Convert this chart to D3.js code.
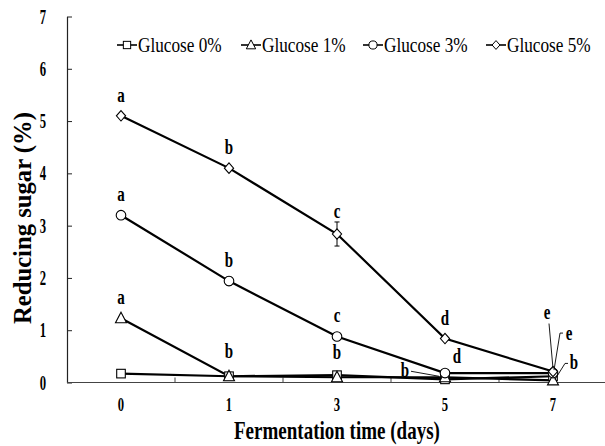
<!DOCTYPE html>
<html><head><meta charset="utf-8">
<script src="https://cdn.jsdelivr.net/npm/d3@7"></script>
<style>
html,body{margin:0;padding:0;background:#fff;}
text{font-family:"Liberation Serif","Times New Roman",serif;}
</style></head>
<body><svg id="chart" width="605" height="446"></svg>
<script>
// ---- data ----
const categories = ["0", "1", "3", "5", "7"];
const seriesNames = ["Glucose 0%", "Glucose 1%", "Glucose 3%", "Glucose 5%"];
const glucose0 = [0.17, 0.12, 0.14, 0.06, 0.12];
const glucose1 = [1.23, 0.12, 0.10, 0.10, 0.04];
const glucose3 = [3.20, 1.94, 0.88, 0.18, 0.18];
const glucose5 = [5.10, 4.10, 2.84, 0.84, 0.21];
const err0 = [0.02, 0.02, 0.02, 0.02, 0.02];
const err1 = [0.03, 0.02, 0.02, 0.02, 0.02];
const err3 = [0.03, 0.08, 0.03, 0.03, 0.02];
const err5 = [0.03, 0.04, 0.23, 0.03, 0.03];
const letters0 = [null, null, null, null, null];
const letters1 = ["a", "b", "b", "b", "b"];
const letters3 = ["a", "b", "c", "d", "e"];
const letters5 = ["a", "b", "c", "d", "e"];
const yTicks = [0, 1, 2, 3, 4, 5, 6, 7];
const xTitle = "Fermentation time (days)";
const yTitle = "Reducing sugar (%)";

const series = [
  {name: seriesNames[0], values: glucose0, err: err0, letters: letters0, sym: "square"},
  {name: seriesNames[1], values: glucose1, err: err1, letters: letters1, sym: "triangle"},
  {name: seriesNames[2], values: glucose3, err: err3, letters: letters3, sym: "circle"},
  {name: seriesNames[3], values: glucose5, err: err5, letters: letters5, sym: "diamond"}
];

const svg = d3.select("#chart");
const mLeft = 67, mRight = 607, mTop = 16.5, mBottom = 382.5;
const x = d3.scaleBand().domain(categories).range([mLeft, mRight]).padding(0);
const cx = c => x(c) + x.bandwidth() / 2;
const y = d3.scaleLinear().domain([0, 7]).range([mBottom, mTop]);

// horizontally condense text glyphs (the reference type is narrow)
function condense(sel, f) {
  sel.each(function() {
    const t = d3.select(this);
    const x0 = +t.attr("x") || 0;
    const tr = t.attr("transform") || "";
    t.attr("x", x0 / f).attr("transform", (tr + ` scale(${f},1)`).trim());
  });
}
// place a title so that it spans a given length centred at a point
function fitTitle(t, base, len) {
  const bb = t.node().getBBox();
  const f = len / bb.width;
  const c = bb.x + bb.width / 2;
  t.attr("transform", `${base} scale(${f},1) translate(${-c},0)`);
}

// y axis
const yAxis = svg.append("g").attr("transform", `translate(${mLeft},0)`)
  .call(d3.axisLeft(y).tickValues(yTicks).tickFormat(d3.format("d"))
        .tickSize(-5).tickSizeOuter(0).tickPadding(21));
yAxis.select(".domain").attr("stroke", "#222").attr("stroke-width", 1.2);
yAxis.selectAll(".tick line").attr("stroke", "#222");
yAxis.selectAll(".tick text").attr("font-size", 20.5).attr("font-weight", "bold")
  .attr("font-family", "Liberation Serif").attr("fill", "#000");
condense(yAxis.selectAll(".tick text"), 0.62);

// x axis
const xAxis = svg.append("g").attr("transform", `translate(0,${mBottom})`)
  .call(d3.axisBottom(x).tickSize(0).tickSizeOuter(0).tickPadding(15));
xAxis.select(".domain").remove();
xAxis.append("line").attr("x1", mLeft).attr("x2", 605).attr("y1", 0).attr("y2", 0)
  .attr("stroke", "#444").attr("stroke-width", 1.2);
xAxis.selectAll(".xb").data(categories.slice(1)).enter().append("line")
  .attr("x1", d => x(d)).attr("x2", d => x(d)).attr("y1", 0).attr("y2", -5)
  .attr("stroke", "#444");
xAxis.selectAll(".tick text").attr("font-size", 19.5).attr("font-weight", "bold")
  .attr("font-family", "Liberation Serif").attr("fill", "#000");
condense(xAxis.selectAll(".tick text"), 0.65);

// titles
const xt = svg.append("text").attr("font-size", 25).attr("font-weight", "bold").text(xTitle);
fitTitle(xt, "translate(337,439)", 206);
const yt = svg.append("text").attr("font-size", 26).attr("font-weight", "bold").text(yTitle);
fitTitle(yt, "translate(31,218) rotate(-90)", 212);

// symbol drawing
function drawSymbol(g, sym, px, py, s) {
  s = s || 1;
  if (sym === "square") {
    g.append("rect").attr("x", px - 4.3 * s).attr("y", py - 4.3 * s).attr("width", 8.6 * s).attr("height", 8.6 * s);
  } else if (sym === "triangle") {
    g.append("path").attr("d", `M${px},${py - 6 * s}L${px + 5.5 * s},${py + 4.5 * s}L${px - 5.5 * s},${py + 4.5 * s}Z`);
  } else if (sym === "circle") {
    g.append("circle").attr("cx", px).attr("cy", py).attr("r", 4.8 * s);
  } else {
    g.append("path").attr("d", `M${px},${py - 5.2 * s}L${px + 4.6 * s},${py}L${px},${py + 5.2 * s}L${px - 4.6 * s},${py}Z`);
  }
}

// lines
const line = d3.line().x((d, i) => cx(categories[i])).y(d => y(d));
series.forEach(s => {
  svg.append("path").datum(s.values).attr("d", line)
    .attr("fill", "none").attr("stroke", "#000").attr("stroke-width", 2.2);
});

// error bars
series.forEach(s => {
  s.values.forEach((v, i) => {
    const px = cx(categories[i]);
    const g = svg.append("g").attr("stroke", "#000").attr("stroke-width", 1);
    g.append("line").attr("x1", px).attr("x2", px).attr("y1", y(v - s.err[i])).attr("y2", y(v + s.err[i]));
    [v - s.err[i], v + s.err[i]].forEach(e => g.append("line")
      .attr("x1", px - 2.5).attr("x2", px + 2.5).attr("y1", y(e)).attr("y2", y(e)));
  });
});

// markers
series.forEach(s => {
  const g = svg.append("g").attr("fill", "#fff").attr("stroke", "#000").attr("stroke-width", 1.1);
  s.values.forEach((v, i) => drawSymbol(g, s.sym, cx(categories[i]), y(v)));
});

// letters
const special = {
  "1-1": {dx: 0, dy: -18},
  "1-2": {dx: 0, dy: -18},
  "1-3": {dx: -36, dy: 0, anchor: "end", leader: [[-34, -6], [-6, -1]]},
  "2-3": {dx: 12, dy: -10},
  "3-4": {dx: -6, dy: -53, leader: [[-4, -48], [0, -3]]},
  "2-4": {dx: 16, dy: -33, leader: [[10, -40], [7, -40], [1, -3]]},
  "1-4": {dx: 21, dy: -11, leader: [[15, -17], [12, -17], [2, -1]]}
};
const lg = svg.append("g");
series.forEach((s, si) => {
  s.letters.forEach((L, i) => {
    if (!L) return;
    const px = cx(categories[i]), py = y(s.values[i]);
    const sp = special[si + "-" + i];
    let tx = px, ty = Math.min(py - 14, y(s.values[i] + s.err[i]) - 4), anchor = "middle";
    if (sp) {
      tx = px + sp.dx; ty = py + sp.dy; anchor = sp.anchor || "middle";
      if (sp.leader) {
        const pts = sp.leader.map(p => [px + p[0], py + p[1]]);
        lg.append("path").attr("d", d3.line()(pts)).attr("fill", "none")
          .attr("stroke", "#000").attr("stroke-width", 0.9);
      }
    }
    const t = lg.append("text").attr("transform", `translate(${tx},${ty})`).attr("text-anchor", anchor)
      .attr("font-size", 20).attr("font-weight", "bold").text(L);
    condense(t, 0.75);
  });
});

// legend
const legendX = [127, 251, 373, 496];
const legY = 45;
series.forEach((s, i) => {
  const g = svg.append("g");
  g.append("line").attr("x1", legendX[i] - 10).attr("x2", legendX[i] + 10)
    .attr("y1", legY).attr("y2", legY).attr("stroke", "#000").attr("stroke-width", 1.6);
  const mg = g.append("g").attr("fill", "#fff").attr("stroke", "#000").attr("stroke-width", 1);
  drawSymbol(mg, s.sym, legendX[i], legY, 0.85);
  const t = g.append("text").attr("transform", `translate(${legendX[i] + 11},${legY + 7})`)
    .attr("font-size", 21).text(s.name);
  condense(t, 0.82);
});
</script></body></html>
